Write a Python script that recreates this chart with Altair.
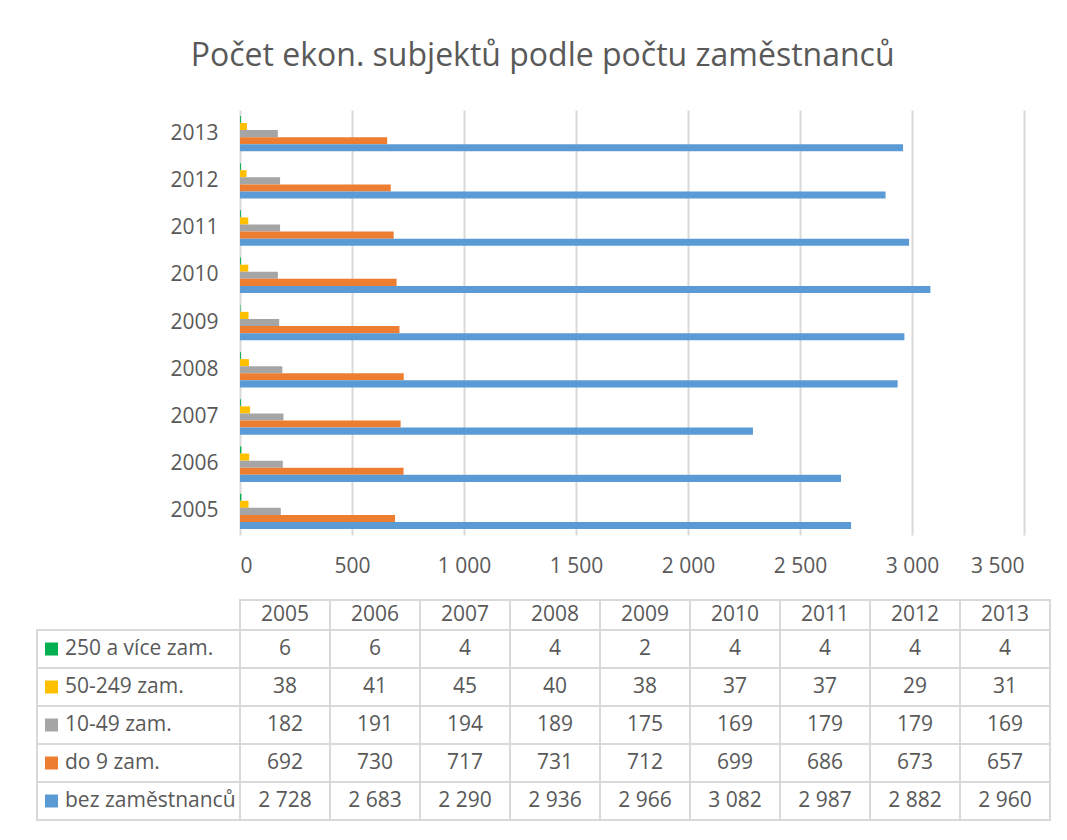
import altair as alt
import pandas as pd

# ---- data ----
years = ["2005", "2006", "2007", "2008", "2009", "2010", "2011", "2012", "2013"]
series = ["250 a více zam.", "50-249 zam.", "10-49 zam.", "do 9 zam.", "bez zaměstnanců"]
colors = ["#00B050", "#FFC000", "#A5A5A5", "#ED7D31", "#5B9BD5"]

v_250 = [6, 6, 4, 4, 2, 4, 4, 4, 4]
v_50_249 = [38, 41, 45, 40, 38, 37, 37, 29, 31]
v_10_49 = [182, 191, 194, 189, 175, 169, 179, 179, 169]
v_do9 = [692, 730, 717, 731, 712, 699, 686, 673, 657]
v_bez = [2728, 2683, 2290, 2936, 2966, 3082, 2987, 2882, 2960]

x_ticks = [0, 500, 1000, 1500, 2000, 2500, 3000, 3500]
title_text = "Počet ekon. subjektů podle počtu zaměstnanců"

# ---- tables ----
all_values = [v_250, v_50_249, v_10_49, v_do9, v_bez]
rows = []
for s, vals in zip(series, all_values):
    for y, v in zip(years, vals):
        rows.append({"year": y, "series": s, "value": v,
                     "label": f"{v:,}".replace(",", " ")})
df = pd.DataFrame(rows)
df_years = pd.DataFrame({"year": years})
df_series = pd.DataFrame({"series": series})

FONT = "Open Sans"
TXT = "#595959"
GRID = "#D9D9D9"
FS = 21

color_scale = alt.Scale(domain=series, range=colors)

# ---- bar chart ----
bars = alt.Chart(df).mark_bar().encode(
    x=alt.X("value:Q",
            scale=alt.Scale(domain=[0, 3500], nice=False),
            axis=alt.Axis(values=x_ticks, title=None, domain=False, ticks=False,
                          grid=True, gridColor=GRID, gridWidth=2,
                          labelExpr="replace(format(datum.value, ','), ',', ' ')",
                          labelFont=FONT, labelFontSize=FS, labelColor=TXT,
                          labelPadding=20)),
    y=alt.Y("year:N", sort=years[::-1],
            scale=alt.Scale(paddingInner=0.25, paddingOuter=0.125),
            axis=alt.Axis(title=None, domain=False, ticks=False, grid=False,
                          labelFont=FONT, labelFontSize=FS, labelColor=TXT,
                          labelPadding=22)),
    yOffset=alt.YOffset("series:N", sort=series, scale=alt.Scale(paddingInner=0)),
    color=alt.Color("series:N", scale=color_scale, legend=None),
).properties(width=784, height=425)


def spacer(w, h):
    return alt.Chart(df_years).mark_point(opacity=0).encode(
        x=alt.value(0), y=alt.value(0)).properties(width=w, height=h)


# ---- table header ----
xs = alt.X("year:N", sort=years, scale=alt.Scale(paddingInner=0, paddingOuter=0), axis=None)
header = alt.layer(
    alt.Chart(df_years).mark_rect(fill="white", stroke=GRID, strokeWidth=2).encode(x=xs),
    alt.Chart(df_years).mark_text(font=FONT, fontSize=FS, color=TXT).encode(x=xs, text="year:N"),
).properties(width=810, height=30)

# ---- table body ----
ys = alt.Y("series:N", sort=series, scale=alt.Scale(paddingInner=0, paddingOuter=0), axis=None)
body = alt.layer(
    alt.Chart(df).mark_rect(fill="white", stroke=GRID, strokeWidth=2).encode(x=xs, y=ys),
    alt.Chart(df).mark_text(font=FONT, fontSize=FS, color=TXT).encode(x=xs, y=ys, text="label:N"),
).properties(width=810, height=190)

labels = alt.layer(
    alt.Chart(df_series).mark_rect(fill="white", stroke=GRID, strokeWidth=2).encode(y=ys),
    alt.Chart(df_series).mark_square(size=169, opacity=1).encode(
        x=alt.value(14.5), y=ys,
        color=alt.Color("series:N", scale=color_scale, legend=None)),
    alt.Chart(df_series).mark_text(font=FONT, fontSize=FS, color=TXT, align="left").encode(
        x=alt.value(28), y=ys, text="series:N"),
).properties(width=203, height=190)

chart = alt.concat(
    spacer(203, 425), bars,
    spacer(203, 65), spacer(810, 65),
    spacer(203, 30), header,
    labels, body,
    columns=2, spacing=0, bounds="flush", align="each",
).properties(
    title=alt.Title(title_text, font=FONT, fontSize=32, fontWeight="normal",
                    color=TXT, anchor="middle", offset=34),
    padding={"left": 26, "top": 32, "right": 5, "bottom": 5},
    background="white",
).configure_view(stroke=None)

chart.save("out.html", embed_options={"renderer": "svg", "actions": False})
